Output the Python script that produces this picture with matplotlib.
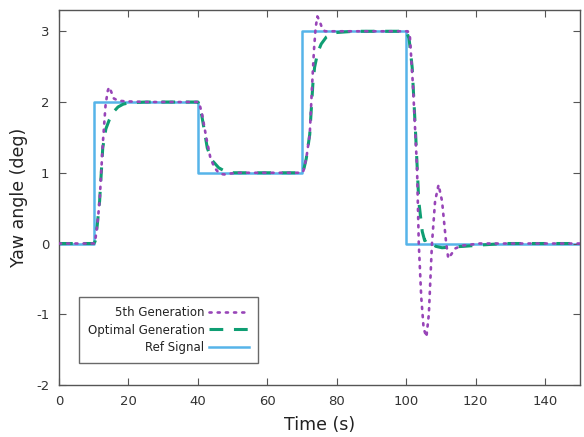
import matplotlib
matplotlib.use("Agg")
import matplotlib.pyplot as plt

plt.rcParams["axes.unicode_minus"] = False

# Reference signal (step levels)
ref_t = [0, 10, 10, 40, 40, 70, 70, 100, 100, 150]
ref_y = [0, 0, 2, 2, 1, 1, 3, 3, 0, 0]

# Optimal Generation (green dashed)
opt_t = [0, 10.0, 10.4, 11.0, 11.7, 12.6, 13.5, 14.5, 15.5, 17.0, 18.5, 20.3, 25, 40.0, 40.6,
         41.5, 42.7, 44.0, 46.0, 47.5, 48.9, 52, 70.0, 70.4, 71.2, 72.2, 73.1, 73.6, 74.5,
         75.5, 77.0, 79.3, 85, 100.0, 100.8, 101.7, 102.7, 103.6, 104.6, 105.3, 106.0,
         107.0, 108.5, 110.3, 113.0, 116.5, 122.0, 128.0, 150]
opt_y = [0, 0, 0.03, 0.25, 0.6, 1.35, 1.62, 1.75, 1.85, 1.93, 1.97, 1.99, 2.0, 2.0, 1.95,
         1.7, 1.35, 1.18, 1.07, 1.03, 1.0, 1.0, 1.0, 1.03, 1.2, 1.54, 2.25, 2.49, 2.7,
         2.82, 2.92, 2.98, 3.0, 3.0, 2.9, 2.49, 1.54, 0.6, 0.17, 0.04, 0.06,
         0.02, -0.04, -0.06, -0.05, -0.04, -0.02, 0.0, 0.0]

# 5th Generation (purple dotted)
gen5_t = [0, 10.0, 10.4, 11.0, 11.7, 12.6, 13.4, 14.0, 14.4, 15.0, 15.8, 17.0, 19, 25, 40.0,
          40.4, 41.2, 42.4, 43.6, 44.8, 46.0, 47.0, 47.9, 49.5, 52, 70.0, 70.4, 71.2, 72.2,
          72.9, 73.4, 73.9, 74.4, 75.0, 75.8, 76.6, 77.4, 80, 100.0, 100.4, 101.0, 101.9,
          103.1, 103.6, 104.3, 105.0, 105.8, 106.5, 107.4, 108.3, 109.3, 110.3, 111.5,
          112.1, 113.0, 114.1, 116.0, 117.9, 121, 150]
gen5_y = [0, 0, 0.03, 0.25, 0.6, 1.4, 1.95, 2.15, 2.21, 2.15, 2.05, 2.02, 2.01, 2.0, 2.0,
          1.98, 1.83, 1.5, 1.21, 1.07, 1.0, 0.98, 0.975, 0.99, 1.0, 1.0, 1.03, 1.2, 1.54,
          2.25, 2.72, 3.05, 3.21, 3.15, 3.04, 3.0, 3.0, 3.0, 3.0, 3.0, 2.96, 2.25,
          1.07, 0.0, -0.75, -1.2, -1.32, -1.0, 0.0, 0.6, 0.83, 0.6, 0.0,
          -0.21, -0.15, -0.07, -0.03, -0.02, 0.0, 0.0]

x_ticks = [0, 20, 40, 60, 80, 100, 120, 140]
y_ticks = [-2, -1, 0, 1, 2, 3]

fig = plt.figure(figsize=(5.84, 4.37), dpi=100)
ax = fig.add_axes([0.101, 0.119, 0.892, 0.858])

ax.plot(gen5_t, gen5_y, color="#9845b8", lw=1.9, ls=(0, (0.8, 2.3)),
        dash_capstyle="round", label="5th Generation", zorder=3)
ax.plot(opt_t, opt_y, color="#0f9e73", lw=2.2, ls=(0, (4.5, 3.5)), label="Optimal Generation", zorder=2)
ax.plot(ref_t, ref_y, color="#56b4e9", lw=1.8, label="Ref Signal", zorder=1)

ax.set_xlim(0, 150)
ax.set_ylim(-2, 3.3)
ax.set_xticks(x_ticks)
ax.set_yticks(y_ticks)
ax.tick_params(direction="in", top=True, right=True, length=5, width=0.8,
               color="#555555", labelcolor="#333333", labelsize=9.5, pad=7)
for s in ax.spines.values():
    s.set_color("#555555")
    s.set_linewidth(1.0)

ax.set_xlabel("Time (s)", fontsize=12.5, color="#222222", labelpad=6)
ax.set_ylabel("Yaw angle (deg)", fontsize=12.5, color="#222222", labelpad=6)

leg = ax.legend(loc="lower left", bbox_to_anchor=(0.038, 0.059), borderaxespad=0,
                markerfirst=False, fontsize=8.5, frameon=True, fancybox=False,
                handlelength=3.4, labelspacing=0.38, borderpad=0.75, handletextpad=0.35)
leg.get_frame().set_edgecolor("#444444")
leg.get_frame().set_linewidth(1.0)
for t in leg.get_texts():
    t.set_color("#222222")

fig.savefig("out.png", dpi=100)
